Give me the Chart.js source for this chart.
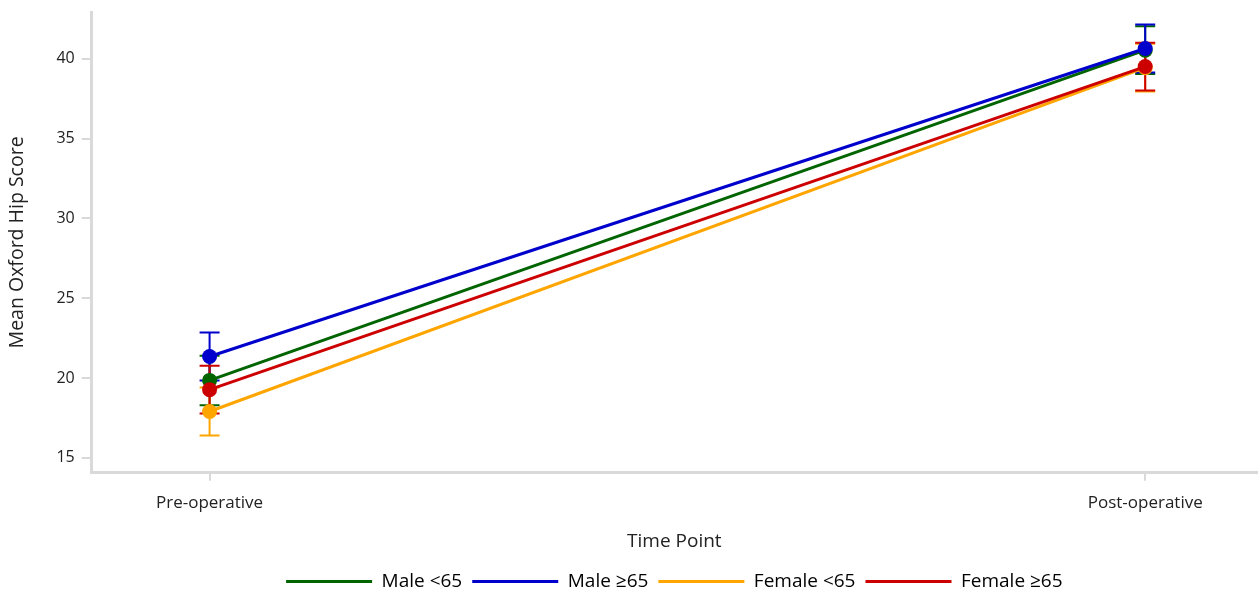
<!DOCTYPE html>
<html>
<head>
<meta charset="utf-8">
<script src="https://cdn.jsdelivr.net/npm/chart.js@4/dist/chart.umd.min.js"></script>
<style>
    html, body { margin: 0; padding: 0; background: #fff; overflow: hidden; }
    canvas { display: block; }
</style>
</head>
<body>
<canvas id="hipChart" width="1258" height="592"></canvas>
<script>
// Time points (x positions 0 and 1)
const timePoints = ['Pre-operative', 'Post-operative'];
const yTicks = [15, 20, 25, 30, 35, 40];

// Mean Oxford Hip Score per group
const groupNames = ['Male <65', 'Male \u226565', 'Female <65', 'Female \u226565'];
const maleUnder65 = [19.85, 40.55];
const maleOver65 = [21.35, 40.65];
const femaleUnder65 = [17.9, 39.45];
const femaleOver65 = [19.27, 39.52];

// Error bar half-widths
const maleUnder65Err = [1.55, 1.5];
const maleOver65Err = [1.5, 1.5];
const femaleUnder65Err = [1.5, 1.5];
const femaleOver65Err = [1.5, 1.5];

const colors = ['#006400', '#0000cd', '#ffa500', '#cc0000'];
const series = [maleUnder65, maleOver65, femaleUnder65, femaleOver65];
const errors = [maleUnder65Err, maleOver65Err, femaleUnder65Err, femaleOver65Err];

const FONT = '"Open Sans", "Noto Sans", sans-serif';
const AXIS_GREY = '#d9d9d9';
const TEXT = '#222';

// Draw all error bars first, underneath the lines and markers
const errorBars = {
    id: 'errorBars',
    beforeDatasetsDraw(chart) {
        const ctx = chart.ctx;
        const xs = chart.scales.x;
        const ys = chart.scales.y;
        ctx.save();
        ctx.lineWidth = 2;
        series.forEach((vals, i) => {
            ctx.strokeStyle = colors[i];
            vals.forEach((v, j) => {
                const px = xs.getPixelForValue(j);
                const top = ys.getPixelForValue(v + errors[i][j]);
                const bot = ys.getPixelForValue(v - errors[i][j]);
                ctx.beginPath();
                ctx.moveTo(px, top);
                ctx.lineTo(px, bot);
                ctx.moveTo(px - 10, top);
                ctx.lineTo(px + 10, top);
                ctx.moveTo(px - 10, bot);
                ctx.lineTo(px + 10, bot);
                ctx.stroke();
            });
        });
        ctx.restore();
    }
};

// Centre the legend under the plot area instead of the whole canvas
const legendUnderPlot = {
    id: 'legendUnderPlot',
    beforeDraw(chart) {
        const lg = chart.legend;
        const area = chart.chartArea;
        if (!lg) return;
        lg.left = area.left;
        lg.right = area.right;
        lg.width = area.right - area.left;
    }
};

const datasets = series.map((vals, i) => ({
    label: groupNames[i],
    data: vals.map((v, j) => ({ x: j, y: v })),
    borderColor: colors[i],
    backgroundColor: colors[i],
    borderWidth: 3,
    pointRadius: 7.5,
    pointHoverRadius: 7.5,
    pointBorderWidth: 0,
    order: series.length - i
}));

// Drop the extra label padding Chart.js reserves at the axis ends
function noEndPadding(axis) {
    axis.paddingLeft = 0;
    axis.paddingRight = 0;
    axis.paddingTop = 0;
    axis.paddingBottom = 0;
}

const ctx = document.getElementById('hipChart').getContext('2d');
new Chart(ctx, {
    type: 'line',
    data: { datasets: datasets },
    plugins: [errorBars, legendUnderPlot],
    options: {
        responsive: false,
        animation: false,
        layout: { autoPadding: false, padding: { top: 12, right: 1, left: 6, bottom: -9 } },
        plugins: {
            tooltip: { enabled: false },
            legend: {
                position: 'bottom',
                labels: {
                    boxWidth: 86,
                    boxHeight: 3,
                    padding: 10,
                    color: TEXT,
                    font: { family: FONT, size: 19 },
                    generateLabels(chart) {
                        return chart.data.datasets.map((ds, i) => ({
                            text: ds.label,
                            fillStyle: colors[i],
                            strokeStyle: colors[i],
                            lineWidth: 0,
                            datasetIndex: i,
                            hidden: false
                        }));
                    }
                }
            }
        },
        scales: {
            x: {
                type: 'linear',
                min: -0.126,
                max: 1.1195,
                afterBuildTicks(axis) {
                    axis.ticks = timePoints.map((t, j) => ({ value: j }));
                },
                afterFit: noEndPadding,
                ticks: {
                    color: TEXT,
                    font: { family: FONT, size: 17 },
                    padding: 12,
                    maxRotation: 0,
                    callback: (v) => timePoints[v]
                },
                grid: {
                    drawOnChartArea: false,
                    drawTicks: true,
                    tickLength: 8,
                    color: AXIS_GREY,
                    lineWidth: 2
                },
                border: { color: AXIS_GREY, width: 3 },
                title: {
                    display: true,
                    text: 'Time Point',
                    color: TEXT,
                    font: { family: FONT, size: 19 },
                    padding: { top: 5, bottom: 9 }
                }
            },
            y: {
                min: 14.06,
                max: 42.94,
                afterBuildTicks(axis) {
                    axis.ticks = yTicks.map(v => ({ value: v }));
                },
                afterFit: noEndPadding,
                ticks: {
                    color: TEXT,
                    font: { family: FONT, size: 16 },
                    padding: 7
                },
                grid: {
                    drawOnChartArea: false,
                    drawTicks: true,
                    tickLength: 10,
                    color: AXIS_GREY,
                    lineWidth: 2
                },
                border: { color: AXIS_GREY, width: 3 },
                title: {
                    display: true,
                    text: 'Mean Oxford Hip Score',
                    color: TEXT,
                    font: { family: FONT, size: 19.5 },
                    padding: { top: 0, bottom: 20 }
                }
            }
        }
    }
});
</script>
</body>
</html>
